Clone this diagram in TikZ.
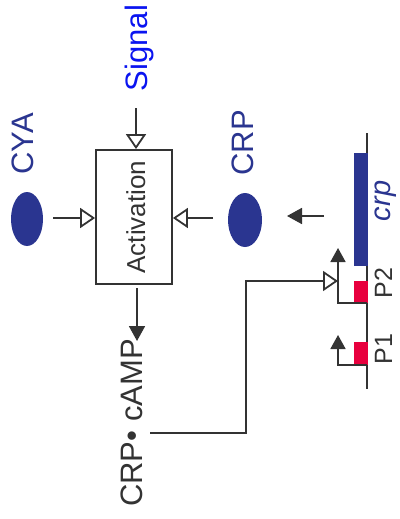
\documentclass[tikz,border=0pt]{standalone}
\usepackage{fontspec}
\setmainfont{Liberation Sans}
\usetikzlibrary{arrows.meta,shapes.geometric}
\definecolor{navy}{HTML}{2A3590}
\definecolor{sigblue}{HTML}{0A14F0}
\definecolor{pred}{HTML}{E8003E}
\definecolor{ink}{HTML}{333333}
\begin{document}
\begin{tikzpicture}[x=1pt,y=-1pt,
  line/.style={draw=ink, line width=1.8pt},
  openarr/.style={line, -{Triangle[open,length=15pt,width=20pt,line width=1.8pt,fill=white]}},
  fillarr/.style={line, -{Triangle[length=15pt,width=16pt]}},
  smallarr/.style={line, -{Triangle[length=14pt,width=15pt]}},
  lab/.style={rotate=90, anchor=base, inner sep=0pt},
  blob/.style={ellipse, fill=navy, inner sep=0pt},
]
\useasboundingbox (0,0) rectangle (399,519);

% texts
\node[lab, text=sigblue, font=\fontsize{31}{31}\selectfont] (signal) at (147,48) {Signal};
\node[lab, text=navy, font=\fontsize{31}{31}\selectfont] (cyatext) at (33,144) {CYA};
\node[lab, text=navy, font=\fontsize{31}{31}\selectfont] (crptext) at (253,143) {CRP};
\node[lab, text=navy, font=\fontsize{29}{29}\selectfont\itshape] (gene) at (390,201) {crp};
\node[lab, text=ink, font=\fontsize{31}{31}\selectfont] (cplx) at (142,423) {CRP• cAMP};
\node[lab, text=ink, font=\fontsize{25}{25}\selectfont] (p2) at (392,283) {P2};
\node[lab, text=ink, font=\fontsize{25}{25}\selectfont] (p1) at (392,349) {P1};

% activation box
\node[draw=ink, line width=1.8pt, minimum width=76pt, minimum height=134pt, inner sep=0pt] (act) at (134,217) {};
\node[lab, text=ink, font=\fontsize{26}{26}\selectfont] (acttext) at (145,217) {Activation};

% proteins
\node[blob, minimum width=32pt, minimum height=54pt] (cya) at (27,219) {};
\node[blob, minimum width=34pt, minimum height=54pt] (crp) at (245,220) {};

% gene
\draw[line] (367,133) coordinate (gtop) -- (367,389) coordinate (gbot);
\fill[navy] (354,153) rectangle (368,266);
\fill[pred] (354,281) rectangle (368,303);
\fill[pred] (354,342) rectangle (368,365);

% connectors
\coordinate (sigin) at (136,108);
\draw[openarr] (sigin) -- (sigin |- act.north);
\coordinate (cyaout) at (53,218);
\draw[openarr] (cyaout) -- (cyaout -| act.west);
\coordinate (crpin) at (213,218);
\draw[openarr] (crpin) -- (crpin -| act.east);
\coordinate (outtop) at (137,288);
\coordinate (outtip) at (137,341);
\draw[fillarr] (outtop) -- (outtip);
\coordinate (genestart) at (324,216);
\coordinate (crptip) at (287,216);
\draw[fillarr] (genestart) -- (crptip);

% promoters
\coordinate (p2base) at (367,303);
\coordinate (p2tip) at (338,248);
\draw[smallarr] (p2base) -| (p2tip);
\coordinate (p1base) at (367,365);
\coordinate (p1tip) at (338,335);
\draw[smallarr] (p1base) -| (p1tip);

% feedback
\coordinate (fbstart) at (150,433);
\coordinate (fbend) at (338,281);
\draw[openarr] (fbstart) -- (246,433) |- (fbend);
\end{tikzpicture}
\end{document}
